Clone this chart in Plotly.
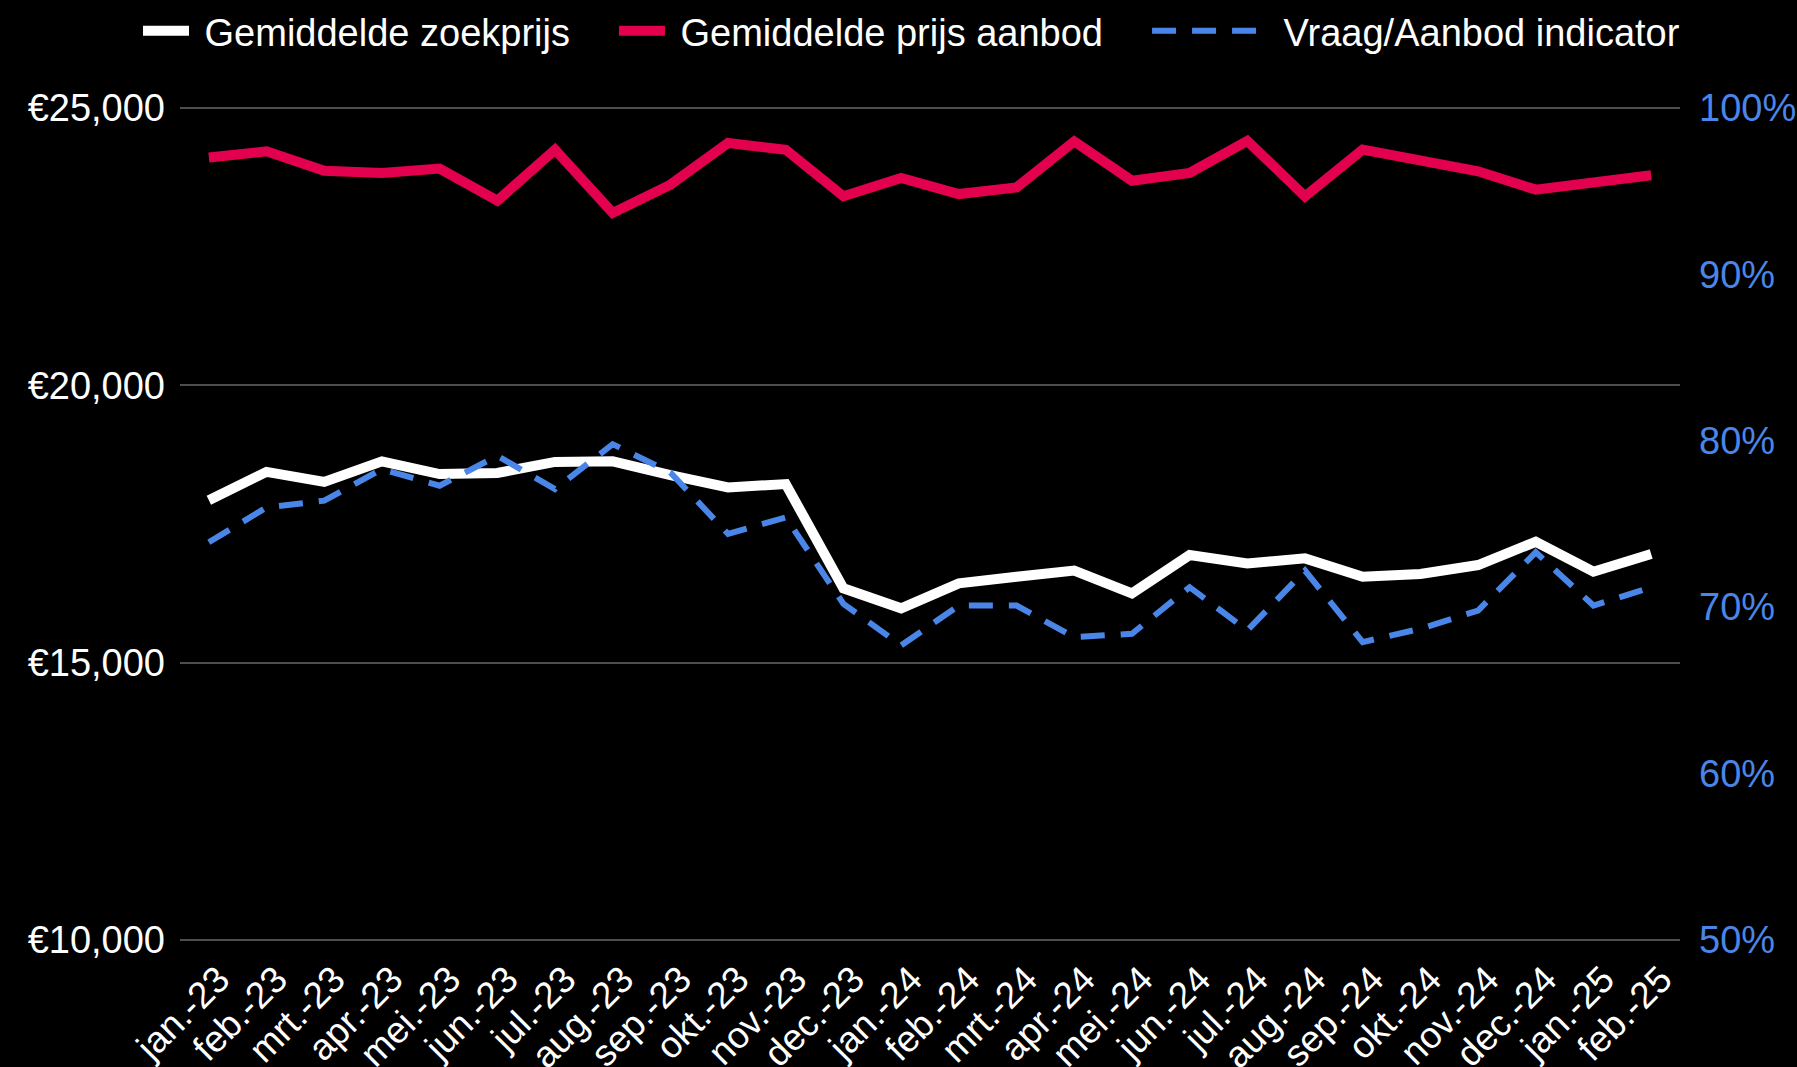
import plotly.graph_objects as go

months = ["jan.-23", "feb.-23", "mrt.-23", "apr.-23", "mei.-23", "jun.-23", "jul.-23", "aug.-23",
          "sep.-23", "okt.-23", "nov.-23", "dec.-23", "jan.-24", "feb.-24", "mrt.-24", "apr.-24",
          "mei.-24", "jun.-24", "jul.-24", "aug.-24", "sep.-24", "okt.-24", "nov.-24", "dec.-24",
          "jan.-25", "feb.-25"]

zoekprijs = [17930, 18440, 18260, 18630, 18400, 18420, 18620, 18630, 18380, 18160, 18220, 16340,
             15980, 16430, 16550, 16660, 16250, 16940, 16790, 16880, 16550, 16600, 16760, 17180,
             16640, 16960]

prijs_aanbod = [24110, 24220, 23870, 23830, 23910, 23330, 24250, 23110, 23620, 24370, 24250, 23410,
                23740, 23450, 23570, 24400, 23690, 23830, 24410, 23410, 24250, 24070, 23860, 23530,
                23650, 23790]

vraag_aanbod = [73.9, 76.0, 76.4, 78.3, 77.3, 79.1, 77.1, 79.8, 78.1, 74.4, 75.4, 70.2,
                67.7, 70.1, 70.1, 68.2, 68.4, 71.2, 68.6, 72.2, 67.9, 68.7, 69.8, 73.3,
                70.1, 71.2]

series_names = ["Gemiddelde zoekprijs", "Gemiddelde prijs aanbod", "Vraag/Aanbod indicator"]

left_tickvals = [10000, 15000, 20000, 25000]
left_ticktext = ["€10,000", "€15,000", "€20,000", "€25,000"]
right_tickvals = [50, 60, 70, 80, 90, 100]
right_ticktext = ["50%", "60%", "70%", "80%", "90%", "100%"]

FONT = "Arial, 'Liberation Sans', sans-serif"
WHITE = "#FFFFFF"
RED = "#E3004F"
BLUE = "#4A86E8"
NB = "\u00a0"  # small gap between legend symbol and legend text

fig = go.Figure()
fig.add_trace(go.Scatter(x=months, y=zoekprijs, name=NB + series_names[0], mode="lines",
                         line=dict(color=WHITE, width=10), yaxis="y", legend="legend"))
fig.add_trace(go.Scatter(x=months, y=prijs_aanbod, name=NB + series_names[1], mode="lines",
                         line=dict(color=RED, width=10), yaxis="y", legend="legend2"))
fig.add_trace(go.Scatter(x=months, y=vraag_aanbod, name=NB + series_names[2], mode="lines",
                         line=dict(color=BLUE, width=6, dash="24px,16px"), yaxis="y2",
                         legend="legend3"))

leg_common = dict(orientation="h", y=1.091, yanchor="middle", xanchor="left",
                  font=dict(size=38, color=WHITE), bgcolor="rgba(0,0,0,0)", borderwidth=0)

fig.update_layout(
    width=1797, height=1067,
    paper_bgcolor="#000000", plot_bgcolor="#000000",
    margin=dict(l=180, r=117, t=107, b=126, autoexpand=False),
    font=dict(family=FONT, size=38, color=WHITE),
    showlegend=True,
    legend=dict(x=-0.028, itemwidth=46, **leg_common),
    legend2=dict(x=0.2893, itemwidth=46, **leg_common),
    legend3=dict(x=0.6447, itemwidth=116, **leg_common),
    xaxis=dict(type="category", range=[-0.5, 25.5], showgrid=False, zeroline=False,
               showline=False, tickangle=-45, ticks="", ticklabelstandoff=8,
               ticklabelshift=10, tickfont=dict(size=37, color=WHITE)),
    yaxis=dict(range=[9980, 25020], tickmode="array", tickvals=left_tickvals,
               ticktext=left_ticktext,
               showgrid=True, gridcolor="#4d4d4d", gridwidth=2, zeroline=False, showline=False,
               ticks="", ticklabelstandoff=14, tickfont=dict(size=38, color=WHITE)),
    yaxis2=dict(range=[50 + (9980 - 10000) / 300, 50 + (25020 - 10000) / 300],
                tickmode="array", tickvals=right_tickvals, ticktext=right_ticktext,
                overlaying="y", side="right", showgrid=False, zeroline=False, showline=False,
                ticks="", ticklabelstandoff=18, tickfont=dict(size=38, color=BLUE)),
)

fig.write_html("out.html", config={"displayModeBar": False},
               post_script="document.body.style.margin='0';document.body.style.overflow='hidden';")
